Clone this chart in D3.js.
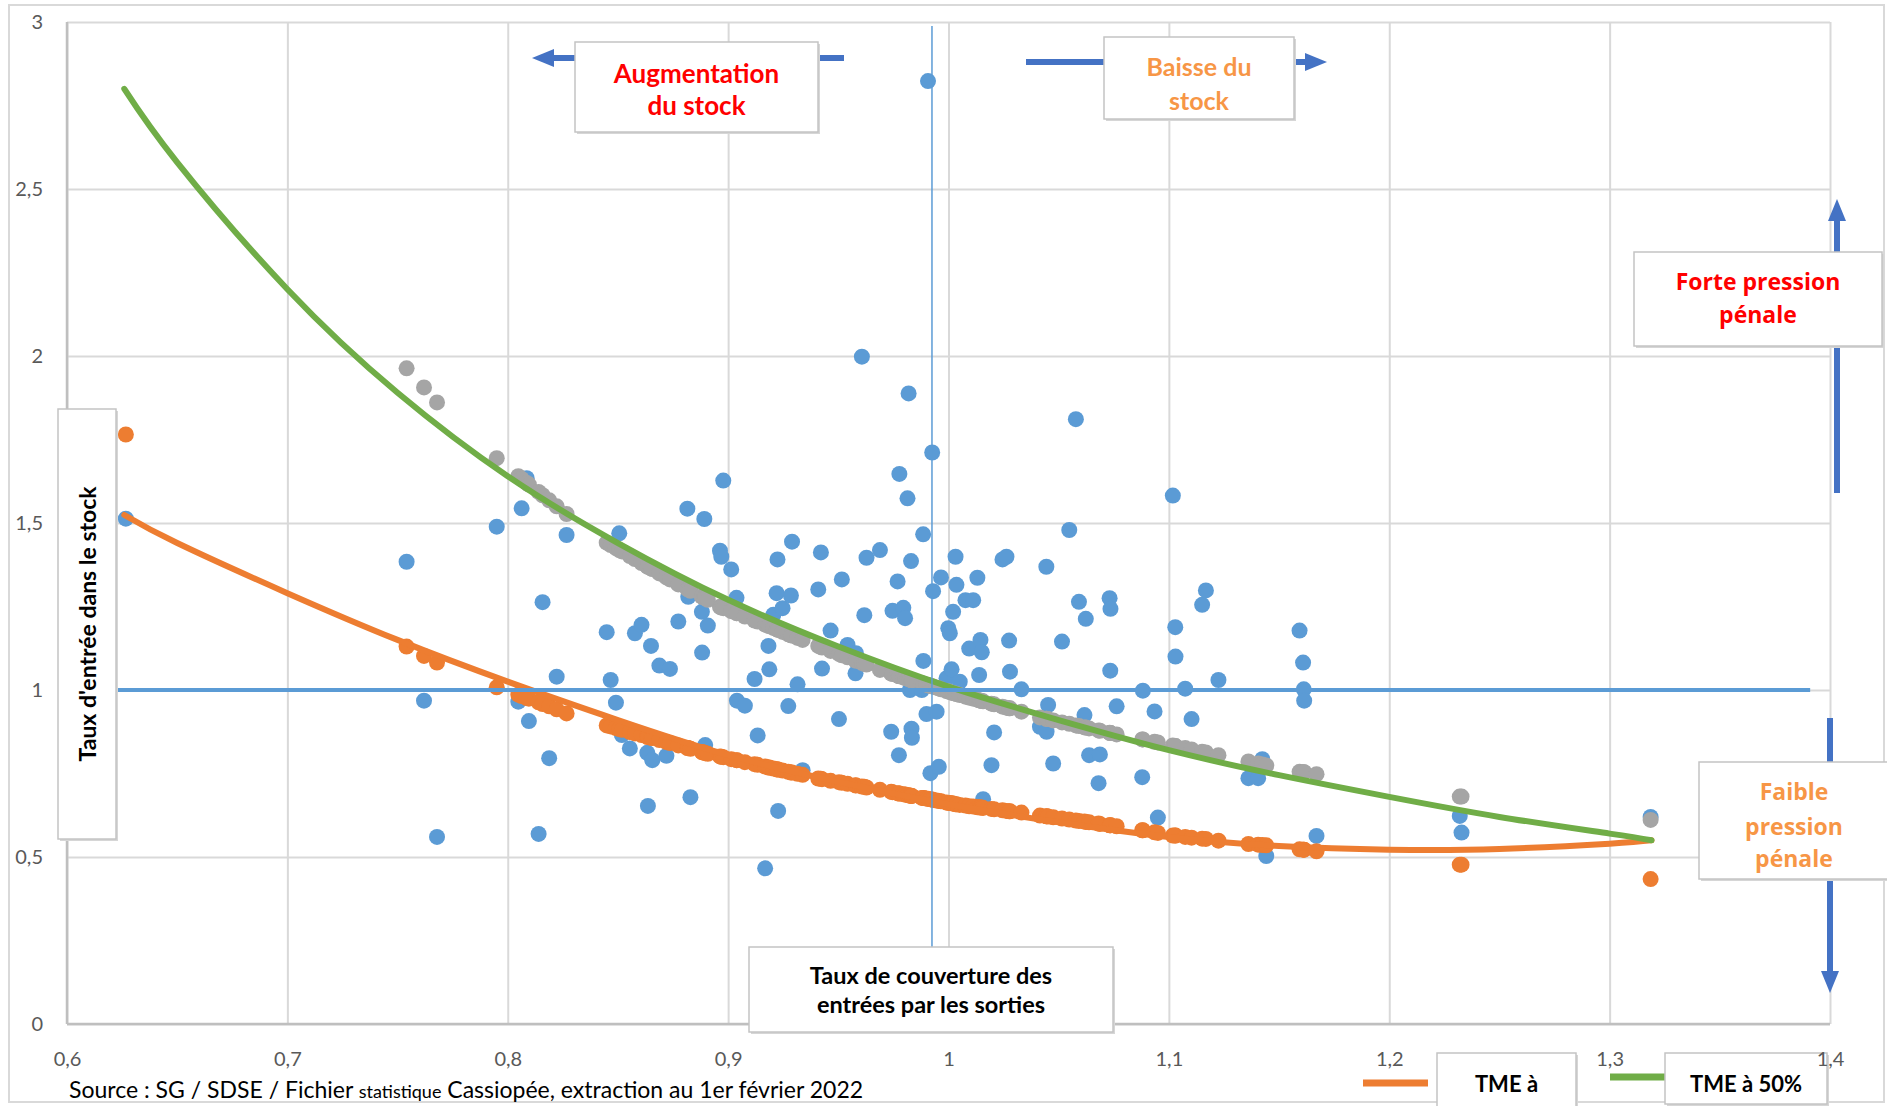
<!DOCTYPE html>
<html>
<head>
<meta charset="utf-8">
<script src="https://cdn.jsdelivr.net/npm/d3@7"></script>
<style>
  body { margin: 0; background: #fff; }
  svg { display: block; font-family: Lato, "Open Sans", sans-serif; }
</style>
</head>
<body>
<svg width="1887" height="1106"></svg>
<script>
// taux de couverture des entrées par les sorties (un point par juridiction)
var tauxCouverture = [
  0.6267,0.7541,0.7620,0.7679,0.7950,0.8048,0.8063,0.8086,0.8096,0.8140,
  0.8158,0.8188,0.8222,0.8267,0.8449,0.8467,0.8491,0.8506,0.8518,0.8554,
  0.8577,0.8607,0.8633,0.8636,0.8650,0.8656,0.8688,0.8720,0.8736,0.8774,
  0.8815,0.8819,0.8829,0.8881,0.8882,0.8892,0.8896,0.8908,0.8963,0.8969,
  0.8978,0.9014,0.9038,0.9040,0.9076,0.9120,0.9134,0.9168,0.9183,0.9187,
  0.9205,0.9220,0.9224,0.9227,0.9247,0.9273,0.9285,0.9290,0.9315,0.9338,
  0.9409,0.9421,0.9426,0.9465,0.9503,0.9516,0.9542,0.9578,0.9580,0.9607,
  0.9618,0.9628,0.9689,0.9740,0.9746,0.9769,0.9775,0.9777,0.9795,0.9803,
  0.9814,0.9819,0.9825,0.9830,0.9832,0.9834,0.9879,0.9885,0.9886,0.9900,
  0.9907,0.9918,0.9926,0.9930,0.9946,0.9956,0.9966,0.9991,0.9999,1.0006,
  1.0014,1.0021,1.0032,1.0036,1.0051,1.0077,1.0094,1.0112,1.0131,1.0139,
  1.0145,1.0151,1.0157,1.0195,1.0207,1.0245,1.0263,1.0275,1.0279,1.0331,
  1.0415,1.0444,1.0445,1.0452,1.0475,1.0515,1.0548,1.0578,1.0592,1.0617,
  1.0623,1.0638,1.0681,1.0687,1.0731,1.0734,1.0735,1.0763,1.0879,1.0882,
  1.0935,1.0950,1.1018,1.1029,1.1030,1.1074,1.1103,1.1151,1.1168,1.1225,
  1.1361,1.1405,1.1424,1.1442,1.1593,1.1609,1.1612,1.1614,1.1670,1.2320,
  1.2328,1.3186
];

// taux d'entrée dans le stock (points bleus)
var tauxEntree = [
  1.513,1.384,0.968,0.560,1.489,0.965,1.544,1.634,0.907,0.569,
  1.263,0.796,1.040,1.464,1.173,1.030,0.962,1.469,0.865,0.825,
  1.170,1.195,0.812,0.653,1.132,0.790,1.073,0.803,1.063,1.205,
  1.543,1.279,0.679,1.234,1.112,1.512,0.835,1.193,1.417,1.399,
  1.627,1.361,1.276,0.968,0.953,1.033,0.864,0.466,1.132,1.062,
  1.225,1.290,1.391,0.638,1.245,0.952,1.283,1.444,1.017,0.760,
  1.301,1.412,1.064,1.178,0.913,1.331,1.135,1.050,1.110,1.998,
  1.224,1.396,1.419,0.875,1.237,1.325,0.805,1.647,1.246,1.215,
  1.574,1.888,1.000,1.386,0.884,0.857,1.000,1.466,1.087,0.928,
  2.823,0.751,1.711,1.296,0.935,0.770,1.337,1.035,1.185,1.170,
  1.062,1.234,1.399,1.315,1.025,1.269,1.124,1.269,1.336,1.045,
  1.150,1.113,0.673,0.775,0.873,1.391,1.399,1.148,1.055,1.002,
  0.890,1.369,0.875,0.955,0.780,1.145,1.479,1.811,1.264,0.925,
  1.213,0.805,0.721,0.807,1.275,1.058,1.243,0.951,0.739,0.998,
  0.936,0.618,1.582,1.188,1.100,1.004,0.913,1.255,1.298,1.030,
  0.736,0.736,0.793,0.503,1.178,1.082,1.002,0.968,0.563,0.623,
  0.573,0.620
];

// taux d'entrée correspondant à un TME à 50% (points gris)
var tme50 = [
  null,1.963,1.906,1.861,1.694,1.640,1.632,1.620,1.615,1.593,
  1.583,1.568,1.550,1.527,1.441,1.434,1.425,1.419,1.415,1.401,
  1.392,1.380,1.370,1.369,1.364,1.362,1.349,1.337,1.331,1.316,
  1.302,1.301,1.297,1.280,1.280,1.277,1.275,1.270,1.249,1.247,
  1.245,1.236,1.230,1.230,1.220,1.208,1.205,1.196,1.192,1.191,
  1.186,1.182,1.181,1.180,1.174,1.167,1.164,1.163,1.156,1.150,
  1.132,1.129,1.127,1.117,1.108,1.104,1.098,1.088,1.088,1.081,
  1.078,1.076,1.060,1.049,1.048,1.043,1.042,1.041,1.038,1.036,
  1.034,1.033,1.031,1.030,1.030,1.029,1.020,1.019,1.019,1.016,
  1.015,1.012,1.011,1.010,1.007,1.005,1.002,0.997,0.996,0.994,
  0.992,0.991,0.989,0.988,0.985,0.980,0.977,0.974,0.971,0.969,
  0.968,0.967,0.966,0.959,0.957,0.950,0.947,0.945,0.945,0.935,
  0.918,0.914,0.914,0.913,0.909,0.903,0.899,0.894,0.892,0.888,
  0.888,0.885,0.879,0.878,0.872,0.871,0.871,0.867,0.852,0.852,
  0.845,0.843,0.834,0.832,0.832,0.826,0.822,0.815,0.813,0.805,
  0.786,0.780,0.777,0.774,0.755,0.754,0.754,0.754,0.748,0.681,
  0.681,0.611
];

// taux d'entrée correspondant au TME de référence (points orange)
var tmeRef = [
  1.765,1.130,1.102,1.082,1.008,0.986,0.982,0.976,0.974,0.963,
  0.958,0.951,0.942,0.930,0.894,0.891,0.886,0.883,0.881,0.874,
  0.870,0.865,0.860,0.859,0.857,0.856,0.850,0.844,0.841,0.834,
  0.826,0.826,0.824,0.814,0.814,0.812,0.811,0.809,0.801,0.800,
  0.799,0.793,0.790,0.790,0.784,0.778,0.776,0.771,0.768,0.768,
  0.765,0.763,0.762,0.762,0.759,0.755,0.753,0.753,0.749,0.746,
  0.735,0.734,0.733,0.728,0.724,0.722,0.719,0.715,0.714,0.711,
  0.710,0.708,0.701,0.695,0.694,0.691,0.690,0.690,0.688,0.687,
  0.685,0.685,0.684,0.683,0.683,0.683,0.677,0.677,0.677,0.675,
  0.674,0.673,0.672,0.671,0.669,0.668,0.667,0.663,0.662,0.662,
  0.661,0.660,0.658,0.658,0.656,0.654,0.652,0.651,0.649,0.649,
  0.648,0.648,0.647,0.644,0.643,0.640,0.638,0.637,0.637,0.633,
  0.624,0.622,0.622,0.621,0.619,0.615,0.612,0.609,0.608,0.606,
  0.605,0.604,0.600,0.599,0.595,0.595,0.595,0.592,0.580,0.580,
  0.574,0.572,0.564,0.564,0.564,0.560,0.558,0.555,0.554,0.549,
  0.539,0.537,0.536,0.535,0.523,0.522,0.522,0.522,0.517,0.477,
  0.477,0.434
];

// courbes de tendance
var courbe50 = [
  [0.626,2.80],[0.65,2.58],[0.70,2.20],[0.75,1.89],[0.80,1.64],[0.85,1.44],
  [0.90,1.27],[0.95,1.13],[1.00,1.01],[1.05,0.91],[1.10,0.82],[1.15,0.745],
  [1.20,0.68],[1.25,0.62],[1.30,0.57],[1.319,0.55]
];
var courbeRef = [
  [0.626,1.524],[0.65,1.44],[0.70,1.29],[0.75,1.15],[0.80,1.025],[0.85,0.91],
  [0.90,0.805],[0.95,0.725],[1.00,0.658],[1.05,0.604],[1.10,0.560],[1.15,0.533],
  [1.20,0.522],[1.25,0.524],[1.30,0.540],[1.319,0.550]
];

// repères : équilibre des entrées (y = 1) et couverture ~1
var ligneEquilibre = [[0.6,1],[1.391,1]];
var ligneCouverture = [[0.9925,0],[0.9925,2.988]];

var xTicks = [0.6,0.7,0.8,0.9,1.0,1.1,1.2,1.3,1.4];
var yTicks = [0,0.5,1,1.5,2,2.5,3];

var svg = d3.select('svg');
var x = d3.scaleLinear().domain([0.6,1.4]).range([67,1830]),
    y = d3.scaleLinear().domain([0,3]).range([1024,22]);
var virgule = function(v) { return String(+v.toFixed(1)).replace('.', ','); };
var trait = d3.line()
  .x(function(d) { return x(d[0]); })
  .y(function(d) { return y(d[1]); });

// cadre du graphique
svg.append('rect')
  .attr('x', 9).attr('y', 5)
  .attr('width', 1875).attr('height', 1097)
  .attr('fill', '#fff')
  .attr('stroke', '#d9d9d9')
  .attr('stroke-width', 2);

// encadrés
function encadre(x0, y0, w, h, lignes, color, size, family, yl) {
  svg.append('rect')
    .attr('x', x0 + 2).attr('y', y0 + 2).attr('width', w).attr('height', h)
    .attr('fill', '#d6d6d6');
  svg.append('rect')
    .attr('x', x0).attr('y', y0).attr('width', w).attr('height', h)
    .attr('fill', '#fff').attr('stroke', '#c4c4c4').attr('stroke-width', 1.5);
  lignes.forEach(function(t, i) {
    svg.append('text')
      .attr('x', x0 + w / 2).attr('y', yl[i])
      .attr('text-anchor', 'middle')
      .attr('dominant-baseline', 'central')
      .attr('fill', color)
      .style('font-size', size + 'px')
      .style('font-weight', 'bold')
      .style('font-family', family)
      .text(t);
  });
}

// légende (sous les libellés de l'axe horizontal)
svg.append('line')
  .attr('x1', 1363).attr('x2', 1428).attr('y1', 1083).attr('y2', 1083)
  .attr('stroke', '#ed7d31').attr('stroke-width', 7);
svg.append('line')
  .attr('x1', 1610).attr('x2', 1665).attr('y1', 1077).attr('y2', 1077)
  .attr('stroke', '#70ad47').attr('stroke-width', 7);
encadre(1437, 1053, 139, 60, ['TME à'], '#000', 22, 'Lato', [1083]);
encadre(1665, 1053, 162, 51, ['TME à 50%'], '#000', 22, 'Lato', [1083]);

// axes + quadrillage
var gy = svg.append('g')
  .attr('transform', 'translate(' + x(0.6) + ',0)')
  .call(d3.axisLeft(y).tickValues(yTicks).tickFormat(virgule)
    .tickSize(-(x(1.4) - x(0.6))).tickPadding(24));
var gx = svg.append('g')
  .attr('transform', 'translate(0,' + y(0) + ')')
  .call(d3.axisBottom(x).tickValues(xTicks).tickFormat(virgule)
    .tickSize(-(y(0) - y(3))).tickPadding(28));
[gx, gy].forEach(function(g) {
  g.select('.domain').remove();
  g.selectAll('line').attr('stroke', '#d9d9d9').attr('stroke-width', 2);
  g.selectAll('text')
    .attr('fill', '#595959')
    .style('font-size', '20px')
    .style('font-family', 'Lato, sans-serif');
});
svg.append('line')
  .attr('x1', x(0.6)).attr('x2', x(0.6))
  .attr('y1', y(3)).attr('y2', y(0))
  .attr('stroke', '#bfbfbf').attr('stroke-width', 2.5);
svg.append('line')
  .attr('x1', x(0.6)).attr('x2', x(1.4))
  .attr('y1', y(0)).attr('y2', y(0))
  .attr('stroke', '#bfbfbf').attr('stroke-width', 2.5);

// nuages de points
function points(vals, color) {
  var pts = tauxCouverture.map(function(v, i) { return [v, vals[i]]; })
    .filter(function(d) { return d[1] != null; });
  svg.append('g').selectAll('circle')
    .data(pts).enter().append('circle')
    .attr('cx', function(d) { return x(d[0]); })
    .attr('cy', function(d) { return y(d[1]); })
    .attr('r', 8)
    .attr('fill', color);
}
points(tauxEntree, '#5b9bd5');
points(tme50, '#a5a5a5');
points(tmeRef, '#ed7d31');

// courbes de tendance
var courbe = d3.line()
  .curve(d3.curveNatural)
  .x(function(d) { return x(d[0]); })
  .y(function(d) { return y(d[1]); });

svg.append('path')
  .attr('d', courbe(courbeRef))
  .attr('fill', 'none')
  .attr('stroke', '#ed7d31')
  .attr('stroke-width', 6)
  .attr('stroke-linecap', 'round');
svg.append('path')
  .attr('d', courbe(courbe50))
  .attr('fill', 'none')
  .attr('stroke', '#70ad47')
  .attr('stroke-width', 6)
  .attr('stroke-linecap', 'round');

svg.append('path')
  .attr('d', trait(ligneEquilibre))
  .attr('stroke', '#5b9bd5')
  .attr('stroke-width', 4)
  .attr('fill', 'none');
svg.append('path')
  .attr('d', trait(ligneCouverture))
  .attr('stroke', '#5b9bd5')
  .attr('stroke-width', 1.5)
  .attr('fill', 'none');

// flèches (bleu foncé)
function fleche(x1, y1, x2, y2) {
  var a = Math.atan2(y2 - y1, x2 - x1), L = 22, W = 9;
  var bx = x2 - L * Math.cos(a), by = y2 - L * Math.sin(a);
  svg.append('line')
    .attr('x1', x1).attr('y1', y1).attr('x2', bx).attr('y2', by)
    .attr('stroke', '#4472c4').attr('stroke-width', 6);
  svg.append('path')
    .attr('d', 'M' + x2 + ',' + y2 +
      'L' + (bx + W * Math.sin(a)) + ',' + (by - W * Math.cos(a)) +
      'L' + (bx - W * Math.sin(a)) + ',' + (by + W * Math.cos(a)) + 'Z')
    .attr('fill', '#4472c4');
}
fleche(844, 58, 532, 58);
fleche(1026, 62, 1327, 62);
fleche(1837, 493, 1837, 199);
fleche(1830, 718, 1830, 993);

encadre(575, 42, 243, 90, ['Augmentation', 'du stock'], '#ff0000', 26, 'Lato', [73, 105]);
encadre(1104, 37, 190, 82, ['Baisse du', 'stock'], '#f79646', 25, 'Lato', [66, 100]);
encadre(1634, 252, 248, 94, ['Forte pression', 'pénale'], '#ff0000', 23, '"Open Sans"', [281, 314]);
encadre(1699, 762, 190, 117, ['Faible', 'pression', 'pénale'], '#f79646', 23, '"Open Sans"', [791, 826, 858]);
encadre(749, 947, 364, 85, ['Taux de couverture des', 'entrées par les sorties'], '#000', 23.5, 'Lato', [975, 1004]);

// titre de l'axe vertical
svg.append('rect')
  .attr('x', 60).attr('y', 411).attr('width', 58).attr('height', 430)
  .attr('fill', '#d6d6d6');
svg.append('rect')
  .attr('x', 58).attr('y', 409).attr('width', 58).attr('height', 430)
  .attr('fill', '#fff').attr('stroke', '#c4c4c4').attr('stroke-width', 1.5);
svg.append('text')
  .attr('transform', 'translate(87,624) rotate(-90)')
  .attr('text-anchor', 'middle')
  .attr('dominant-baseline', 'central')
  .style('font-size', '23px')
  .style('font-weight', 'bold')
  .text("Taux d'entrée dans le stock");

// source
var src = svg.append('text')
  .attr('x', 69).attr('y', 1098)
  .attr('fill', '#000')
  .style('font-size', '23px');
src.append('tspan').text('Source : SG / SDSE / Fichier ');
src.append('tspan').style('font-size', '18px').text('statistique');
src.append('tspan').text(' Cassiopée, extraction au 1er février 2022');
</script>
</body>
</html>
